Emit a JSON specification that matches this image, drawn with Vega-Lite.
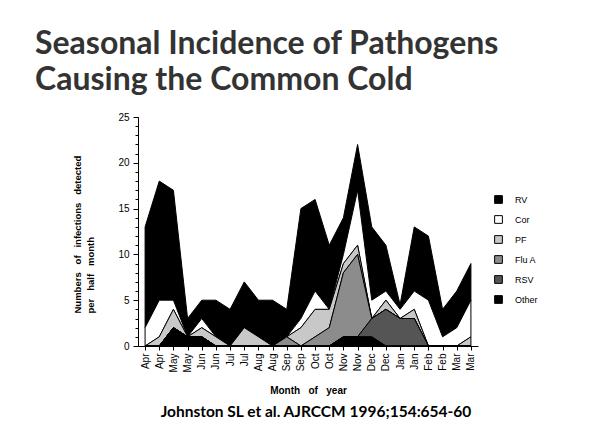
{
  "$schema": "https://vega.github.io/schema/vega-lite/v6.json",
  "background": "white",
  "padding": {"left": 35, "top": 28, "right": 5, "bottom": 5},
  "config": {"view": {"stroke": null}},
  "title": {
    "text": ["Seasonal Incidence of Pathogens", "Causing the Common Cold"],
    "anchor": "start", "frame": "bounds", "dx": -37,
    "font": "Lato", "fontSize": 32, "fontWeight": "bold", "color": "#333333",
    "lineHeight": 36, "offset": 15
  },
  "vconcat": [
    {
      "width": 340,
      "height": 229,
      "title": {
        "text": "Johnston SL et al. AJRCCM 1996;154:654-60",
        "orient": "bottom", "anchor": "middle", "dx": 8,
        "font": "Lato", "fontSize": 15.5, "fontWeight": "bold", "color": "black", "offset": 9
      },
      "data": {
        "values": [
          {"i": 0, "Other": 0, "RSV": 0, "Flu A": 0, "PF": 0, "Cor": 2, "RV": 11},
          {"i": 1, "Other": 0, "RSV": 0, "Flu A": 0, "PF": 1, "Cor": 4, "RV": 13},
          {"i": 2, "Other": 2, "RSV": 0, "Flu A": 0, "PF": 2, "Cor": 1, "RV": 12},
          {"i": 3, "Other": 1, "RSV": 0, "Flu A": 0, "PF": 0, "Cor": 0, "RV": 2},
          {"i": 4, "Other": 1, "RSV": 0, "Flu A": 0, "PF": 1, "Cor": 1, "RV": 2},
          {"i": 5, "Other": 0, "RSV": 0, "Flu A": 0, "PF": 1, "Cor": 0, "RV": 4},
          {"i": 6, "Other": 0, "RSV": 0, "Flu A": 0, "PF": 0, "Cor": 0, "RV": 4},
          {"i": 7, "Other": 0, "RSV": 0, "Flu A": 0, "PF": 2, "Cor": 0, "RV": 5},
          {"i": 8, "Other": 0, "RSV": 0, "Flu A": 0, "PF": 1, "Cor": 0, "RV": 4},
          {"i": 9, "Other": 0, "RSV": 0, "Flu A": 0, "PF": 0, "Cor": 0, "RV": 5},
          {"i": 10, "Other": 0, "RSV": 0, "Flu A": 1, "PF": 0, "Cor": 0, "RV": 3},
          {"i": 11, "Other": 0, "RSV": 0, "Flu A": 0, "PF": 2, "Cor": 1, "RV": 12},
          {"i": 12, "Other": 0, "RSV": 0, "Flu A": 1, "PF": 3, "Cor": 2, "RV": 10},
          {"i": 13, "Other": 0, "RSV": 0, "Flu A": 2, "PF": 2, "Cor": 0, "RV": 7},
          {"i": 14, "Other": 1, "RSV": 0, "Flu A": 7, "PF": 1, "Cor": 1, "RV": 4},
          {"i": 15, "Other": 1, "RSV": 0, "Flu A": 9, "PF": 1, "Cor": 6, "RV": 5},
          {"i": 16, "Other": 1, "RSV": 2, "Flu A": 0, "PF": 0, "Cor": 2, "RV": 8},
          {"i": 17, "Other": 0, "RSV": 4, "Flu A": 0, "PF": 1, "Cor": 1, "RV": 5},
          {"i": 18, "Other": 0, "RSV": 3, "Flu A": 0, "PF": 0, "Cor": 1, "RV": 0.5},
          {"i": 19, "Other": 0, "RSV": 3, "Flu A": 0, "PF": 1, "Cor": 2, "RV": 7},
          {"i": 20, "Other": 0, "RSV": 0, "Flu A": 0, "PF": 0, "Cor": 5, "RV": 7},
          {"i": 21, "Other": 0, "RSV": 0, "Flu A": 0, "PF": 0, "Cor": 1, "RV": 3},
          {"i": 22, "Other": 0, "RSV": 0, "Flu A": 0, "PF": 0, "Cor": 2, "RV": 4},
          {"i": 23, "Other": 0, "RSV": 0, "Flu A": 0, "PF": 1, "Cor": 4, "RV": 4}
        ]
      },
      "transform": [
        {"fold": ["RV", "Cor", "PF", "Flu A", "RSV", "Other"], "as": ["pathogen", "count"]},
        {"calculate": "indexof(['Other','RSV','Flu A','PF','Cor','RV'], datum.pathogen)", "as": "stackOrder"}
      ],
      "resolve": {"axis": {"y": "independent"}},
      "layer": [
        {
          "mark": {"type": "area", "stroke": "black", "strokeWidth": 1, "opacity": 1, "interpolate": "linear"},
          "encoding": {
            "x": {
              "field": "i", "type": "quantitative",
              "scale": {"domain": [-0.5, 23.5], "nice": false, "zero": false},
              "axis": {
                "values": [0,1,2,3,4,5,6,7,8,9,10,11,12,13,14,15,16,17,18,19,20,21,22,23],
                "labelExpr": "['Apr','Apr','May','May','Jun','Jun','Jul','Jul','Aug','Aug','Sep','Sep','Oct','Oct','Nov','Nov','Dec','Dec','Jan','Jan','Feb','Feb','Mar','Mar'][datum.value]",
                "labelAngle": -90, "labelFont": "Liberation Sans", "labelFontSize": 10, "labelColor": "black",
                "labelPadding": 3, "tickSize": 4, "tickColor": "black", "domainColor": "black",
                "grid": false, "title": "Month\u00a0\u00a0\u00a0of\u00a0\u00a0\u00a0year", "titleFont": "Liberation Sans", "titleFontSize": 10,
                "titleFontWeight": "bold", "titleColor": "black", "titlePadding": 14
              }
            },
            "y": {
              "field": "count", "type": "quantitative", "stack": "zero",
              "scale": {"domain": [0, 25], "nice": false},
              "axis": {
                "values": [0, 5, 10, 15, 20, 25], "grid": false,
                "labelFont": "Liberation Sans", "labelFontSize": 10, "labelColor": "black",
                "tickSize": 5, "tickColor": "black", "domainColor": "black", "labelPadding": 4,
                "title": ["Numbers\u00a0\u00a0\u00a0of\u00a0\u00a0\u00a0infections\u00a0\u00a0\u00a0detected", "per\u00a0\u00a0\u00a0half\u00a0\u00a0\u00a0month"],
                "titleFont": "Liberation Sans", "titleFontSize": 9.5, "titleFontWeight": "bold", "titleColor": "black",
                "titleAngle": -90, "titleAlign": "left", "titleBaseline": "alphabetic",
                "titleX": -58, "titleY": 196, "titleLineHeight": 13
              }
            },
            "color": {
              "field": "pathogen", "type": "nominal",
              "scale": {
                "domain": ["RV", "Cor", "PF", "Flu A", "RSV", "Other"],
                "range": ["#000000", "#ffffff", "#c8c8c8", "#8c8c8c", "#555555", "#000000"]
              },
              "legend": {
                "orient": "none", "legendX": 356, "legendY": 78, "title": null,
                "symbolType": "square", "symbolSize": 60, "symbolStrokeColor": "black", "symbolStrokeWidth": 1,
                "symbolOpacity": 1,
                "labelFont": "Liberation Sans", "labelFontSize": 9, "labelColor": "black",
                "labelOffset": 12, "rowPadding": 7
              }
            },
            "order": {"field": "stackOrder", "type": "quantitative"}
          }
        },
        {
          "data": {"values": [{"z": 0}]},
          "mark": {"type": "rule", "opacity": 0},
          "encoding": {
            "y": {
              "field": "z", "type": "quantitative",
              "axis": {
                "orient": "left",
                "values": [0,1,2,3,4,5,6,7,8,9,10,11,12,13,14,15,16,17,18,19,20,21,22,23,24,25],
                "labels": false, "domain": false, "grid": false, "title": null,
                "tickSize": 3, "tickColor": "black"
              }
            }
          }
        }
      ]
    }
  ]
}
